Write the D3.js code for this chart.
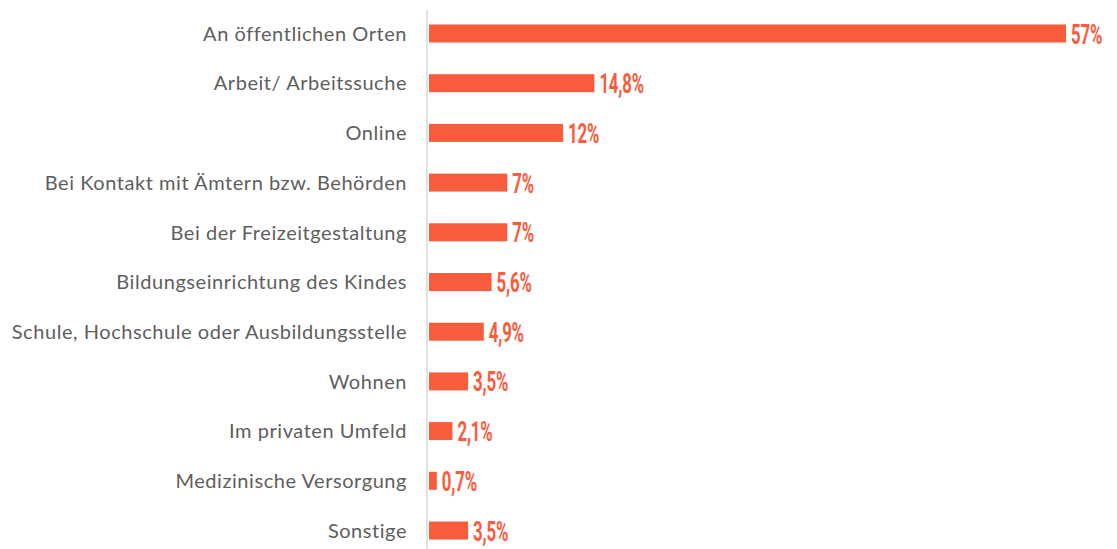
<!DOCTYPE html>
<html>
<head>
<meta charset="utf-8">
<script src="https://cdn.jsdelivr.net/npm/d3@7"></script>
<style>
  html, body { margin: 0; padding: 0; background: #ffffff; }
  svg { display: block; }
</style>
</head>
<body>
<svg id="chart" width="1117" height="549"></svg>
<script>
const categories = [
  "An öffentlichen Orten",
  "Arbeit/ Arbeitssuche",
  "Online",
  "Bei Kontakt mit Ämtern bzw. Behörden",
  "Bei der Freizeitgestaltung",
  "Bildungseinrichtung des Kindes",
  "Schule, Hochschule oder Ausbildungsstelle",
  "Wohnen",
  "Im privaten Umfeld",
  "Medizinische Versorgung",
  "Sonstige"
];
const values = [57, 14.8, 12, 7, 7, 5.6, 4.9, 3.5, 2.1, 0.7, 3.5];
const valueLabels = ["57%", "14,8%", "12%", "7%", "7%", "5,6%", "4,9%", "3,5%", "2,1%", "0,7%", "3,5%"];

const svg = d3.select("#chart");
const barColor = "#F95B3D";

const x = d3.scaleLinear().domain([0, 57]).range([429, 1066]);
const y = d3.scaleBand()
  .domain(categories)
  .range([8.65, 8.65 + 11 * 49.7])
  .paddingInner(0.638)
  .paddingOuter(0.319);

// axis line
svg.append("line")
  .attr("x1", 427).attr("x2", 427)
  .attr("y1", 10).attr("y2", 549)
  .attr("stroke", "#d9d9d9")
  .attr("stroke-width", 1.5);

// category labels
svg.append("g").selectAll("text")
  .data(categories)
  .join("text")
  .attr("x", 407)
  .attr("y", d => y(d) + y.bandwidth() / 2)
  .attr("dy", "0.36em")
  .attr("text-anchor", "end")
  .attr("fill", "#5e5e5e")
  .style("font-family", "Lato, 'Open Sans', sans-serif")
  .style("font-size", "20px")
  .style("letter-spacing", "0.55px")
  .text(d => d);

// value labels & bars
svg.append("g").selectAll("rect")
  .data(values)
  .join("rect")
  .attr("x", x(0))
  .attr("y", (d, i) => y(categories[i]))
  .attr("width", d => x(d) - x(0))
  .attr("height", y.bandwidth())
  .attr("fill", barColor);

svg.append("g").selectAll("text")
  .data(values)
  .join("text")
  .attr("transform", (d, i) => `translate(${x(d) + 5},${y(categories[i]) + y.bandwidth() / 2 + 10}) scale(0.6,1)`)
  .attr("fill", barColor)
  .style("font-family", "Roboto, 'DejaVu Sans', sans-serif")
  .style("font-weight", "700")
  .style("font-size", "28px")
  .style("letter-spacing", "-0.3px")
  .text((d, i) => valueLabels[i]);
</script>
</body>
</html>
